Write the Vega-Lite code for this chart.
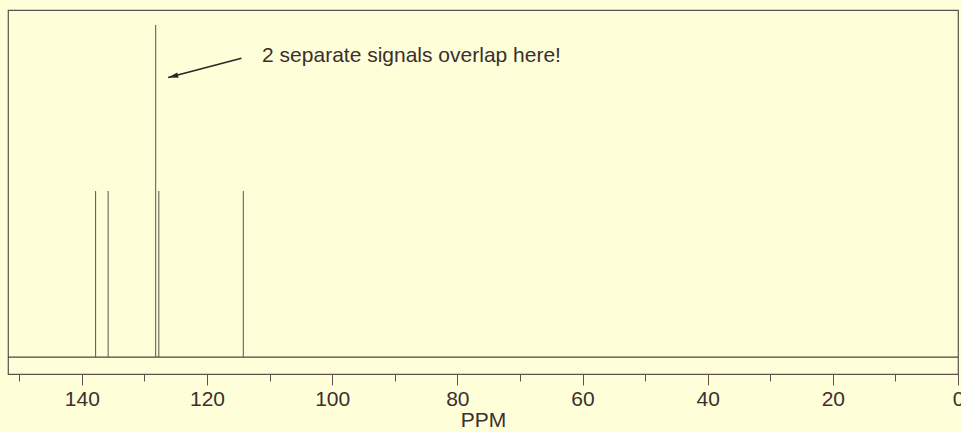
{
  "$schema": "https://vega.github.io/schema/vega-lite/v6.json",
  "width": 950,
  "height": 364,
  "autosize": "none",
  "padding": {"left": 8, "top": 10, "right": 3, "bottom": 58},
  "background": "#fefed8",
  "config": {
    "view": {"stroke": "#5e504c", "strokeWidth": 1.2, "fill": "#fefed8"},
    "font": "Liberation Sans"
  },
  "datasets": {
    "peaks": [
      {"ppm": 137.8, "intensity": 1},
      {"ppm": 135.8, "intensity": 1},
      {"ppm": 128.2, "intensity": 2},
      {"ppm": 127.7, "intensity": 1},
      {"ppm": 114.2, "intensity": 1}
    ],
    "arrow": [
      {"ppm": 114.5, "y": 1.799, "part": "tail"},
      {"ppm": 126.2, "y": 1.683, "part": "tip"}
    ],
    "note": [
      {"ppm": 111.2, "y": 1.774, "text": "2 separate signals overlap here!"}
    ]
  },
  "layer": [
    {
      "data": {"values": [{"y": 0}]},
      "mark": {"type": "rule", "color": "#4e4240", "strokeWidth": 1.2},
      "encoding": {
        "y": {"field": "y", "type": "quantitative", "scale": {"domain": [-0.102, 2.09], "nice": false, "zero": false}, "axis": null}
      }
    },
    {
      "data": {"name": "peaks"},
      "mark": {"type": "rule", "color": "#5e504c", "strokeWidth": 1},
      "encoding": {
        "x": {
          "field": "ppm", "type": "quantitative",
          "scale": {"domain": [0, 151.8], "reverse": true, "nice": false, "zero": false},
          "axis": {
            "title": "PPM",
            "values": [150, 140, 130, 120, 110, 100, 90, 80, 70, 60, 50, 40, 30, 20, 10, 0],
            "labelExpr": "datum.value % 20 === 0 ? datum.label : ''",
            "labelOverlap": false,
            "labelFlush": false,
            "labelBound": false,
            "domain": false,
            "grid": false,
            "tickColor": "#5e504c",
            "tickWidth": 1,
            "tickSize": {"condition": {"test": "datum.value % 20 === 0", "value": 11}, "value": 7},
            "labelPadding": 3,
            "labelFontSize": 21,
            "labelColor": "#3b2f2f",
            "labelFont": "Liberation Sans",
            "titleFont": "Liberation Sans",
            "titleFontSize": 21,
            "titleFontWeight": "normal",
            "titleColor": "#3b2f2f",
            "titlePadding": 0
          }
        },
        "y": {"field": "intensity", "type": "quantitative"},
        "y2": {"datum": 0}
      }
    },
    {
      "data": {"name": "arrow"},
      "mark": {"type": "line", "color": "#2e2424", "strokeWidth": 1.6},
      "encoding": {
        "x": {"field": "ppm", "type": "quantitative"},
        "y": {"field": "y", "type": "quantitative"}
      }
    },
    {
      "data": {"name": "arrow"},
      "transform": [{"filter": "datum.part === 'tip'"}],
      "mark": {"type": "point", "shape": "M0,0 L2,-0.55 L2,0.55 Z", "filled": true, "color": "#2e2424", "opacity": 1, "size": 100, "angle": 346},
      "encoding": {
        "x": {"field": "ppm", "type": "quantitative"},
        "y": {"field": "y", "type": "quantitative"}
      }
    },
    {
      "data": {"name": "note"},
      "mark": {"type": "text", "align": "left", "baseline": "alphabetic", "fontSize": 21, "font": "Liberation Sans", "color": "#3b2f2f"},
      "encoding": {
        "x": {"field": "ppm", "type": "quantitative"},
        "y": {"field": "y", "type": "quantitative"},
        "text": {"field": "text"}
      }
    }
  ]
}
